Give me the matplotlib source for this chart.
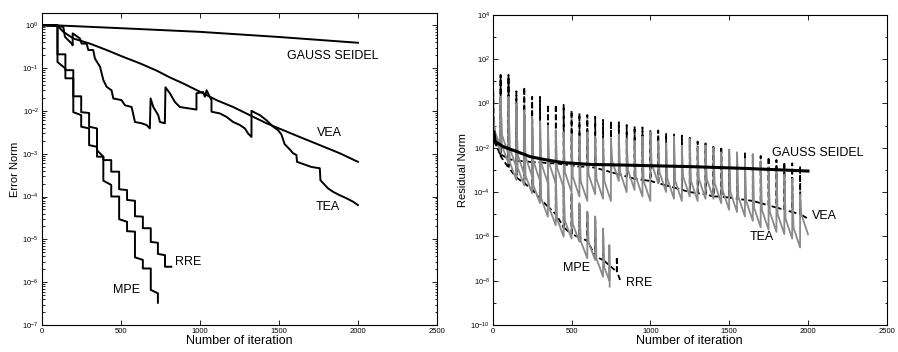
import numpy as np
import matplotlib
matplotlib.use("Agg")
import matplotlib.pyplot as plt
from matplotlib.ticker import FixedLocator, LogFormatterSciNotation, NullFormatter

plt.rcParams["font.family"] = ["Liberation Sans", "DejaVu Sans"]
plt.rcParams["mathtext.default"] = "regular"

# ---------------- left panel: error norm (values stored as log10 exponents) ----------------
gs_l_x = [0, 100, 500, 1000, 1500, 2000]
gs_l_e = [0.0, -0.005, -0.07, -0.155, -0.275, -0.41]

vea_l_x = [0, 100, 137, 200, 305, 411, 516, 621, 727, 811, 895, 1021, 1106, 1211, 1316, 1422,
           1527, 1632, 1759, 1885, 2000]
vea_l_e = [0.0, -0.01, -0.155, -0.31, -0.43, -0.58, -0.74, -0.89, -1.06, -1.22, -1.36, -1.59,
           -1.75, -1.91, -2.10, -2.29, -2.45, -2.61, -2.80, -2.99, -3.19]

tea_l_x = [0, 95, 137, 147, 190, 196, 196, 242, 253, 284, 295, 326, 337, 369, 390, 411, 442, 453,
           505, 527, 569, 590, 632, 663, 684, 689, 706, 737, 748, 779, 783, 811, 842, 874, 979, 979,
           1021, 1032, 1043, 1074, 1074, 1127, 1169, 1211, 1253, 1285, 1306, 1327, 1327, 1358, 1380,
           1422, 1464, 1495, 1516, 1537, 1569, 1590, 1611, 1615, 1706, 1759, 1763, 1811, 1843, 1885,
           1927, 1969, 2000]
tea_l_e = [0.0, -0.02, -0.04, -0.27, -0.43, -0.47, -0.19, -0.31, -0.43, -0.43, -0.58, -0.58, -0.78,
           -0.97, -1.28, -1.44, -1.52, -1.71, -1.75, -1.87, -1.91, -2.26, -2.29, -2.33, -2.41, -1.71,
           -1.91, -2.10, -2.26, -2.29, -1.45, -1.59, -1.79, -1.91, -1.97, -1.59, -1.56, -1.67, -1.52,
           -1.75, -2.02, -2.06, -2.14, -2.26, -2.33, -2.41, -2.53, -2.61, -2.00, -2.06, -2.10, -2.22,
           -2.37, -2.45, -2.55, -2.78, -2.90, -2.99, -3.03, -3.19, -3.31, -3.34, -3.62, -3.81, -3.89,
           -3.97, -4.04, -4.12, -4.20]

# restarted methods: restart iteration, exponent just after restart, exponent just before next
mpe_l_x = [100, 150, 200, 250, 300, 350, 390, 440, 490, 540, 590, 640, 690]
mpe_l_a = [-0.86, -1.24, -2.03, -2.37, -2.80, -3.07, -3.63, -4.00, -4.53, -4.81, -5.42, -5.68, -6.18]
mpe_l_b = [-1.01, -1.24, -2.10, -2.41, -2.84, -3.07, -3.73, -4.00, -4.59, -4.82, -5.48, -5.68, -6.26]
mpe_l_end = (735, -6.48)

rre_l_x = [100, 150, 200, 250, 300, 350, 390, 440, 490, 540, 590, 640, 690, 735, 780]
rre_l_a = [-0.68, -1.05, -1.66, -2.03, -2.37, -2.92, -3.15, -3.42, -3.83, -4.08, -4.46, -4.74, -5.06,
           -5.34, -5.64]
rre_l_b = [-0.68, -1.05, -1.66, -2.05, -2.41, -3.07, -3.15, -3.42, -3.85, -4.10, -4.47, -4.74, -5.08,
           -5.37, -5.64]
rre_l_end = (820, -5.64)

# ---------------- right panel: residual norm ----------------
restarts = [50, 100, 150, 200, 250, 300, 350, 400, 450, 500, 550, 600, 650, 700, 750, 800, 850, 900,
            950, 1000, 1050, 1100, 1150, 1200, 1250, 1300, 1350, 1400, 1450, 1500, 1550, 1600, 1650,
            1700, 1750, 1800, 1850, 1900, 1950]

gs_r_x = [8, 15, 67, 152, 237, 343, 448, 618, 829, 1252, 1600, 2000]
gs_r_e = [-1.3, -1.72, -1.95, -2.17, -2.40, -2.55, -2.67, -2.75, -2.78, -2.85, -2.93, -3.05]

start_x = [0, 4, 15, 50]

vea_r_start = [2.8, -0.6, -1.8, -2.3]
vea_r_top = [1.29, 1.29, 0.55, 0.73, 0.30, 0.30, -0.06, -0.06, -0.06, -0.32, -0.44, -0.52, -0.60,
             -0.74, -0.80, -0.85, -0.97, -1.03, -1.08, -1.19, -1.22, -1.34, -1.40, -1.45, -1.55,
             -1.72, -1.80, -1.88, -1.95, -2.10, -2.17, -2.25, -2.30, -2.37, -2.42, -2.55, -2.65,
             -2.70, -2.82]
vea_r_min = [-2.5, -2.6, -2.6, -2.65, -2.65, -2.7, -2.7, -2.75, -2.8, -2.85, -2.85, -2.9, -3.0, -3.1,
             -3.2, -3.3, -3.4, -3.45, -3.5, -3.6, -3.7, -3.8, -3.9, -4.0, -4.05, -4.1, -4.2, -4.2,
             -4.25, -4.3, -4.35, -4.4, -4.5, -4.6, -4.7, -4.8, -4.9, -5.0, -5.2]

tea_r_start = [2.8, -0.7, -1.3, -1.95]
tea_r_top = [0.3, 0.3, -0.4, -0.3, -0.6, -0.8, -1.0, -1.2, -1.3, -1.4, -1.5, -1.3, -1.5, -1.6, -1.6,
             -1.4, -1.6, -1.7, -1.5, -1.3, -1.7, -1.8, -1.5, -1.9, -1.6, -2.0, -1.9, -2.0, -2.2,
             -2.1, -2.2, -2.5, -2.3, -2.6, -2.9, -3.0, -3.2, -3.4, -4.1]
tea_r_knee = [-1.4, -2.0, -2.3, -2.4, -2.6, -2.7, -2.7, -2.9, -3.1, -3.3, -3.5, -3.2, -3.4, -3.5, -2.6,
              -3.1, -3.0, -3.3, -3.5, -2.7, -3.1, -3.4, -3.5, -3.3, -3.5, -3.4, -3.4, -3.6, -3.9,
              -4.0, -4.2, -4.4, -4.7, -4.8, -4.9, -5.0, -5.2, -5.6, -5.0]
tea_r_min = [-2.3, -2.9, -3.2, -3.3, -3.5, -3.6, -3.6, -3.8, -4.0, -4.2, -4.4, -4.1, -4.3, -4.4, -3.5,
             -4.0, -3.9, -4.2, -4.4, -3.6, -4.0, -4.3, -4.4, -4.2, -4.4, -4.3, -4.3, -4.5, -4.8,
             -4.9, -5.1, -5.3, -5.6, -5.7, -5.8, -5.9, -6.1, -6.5, -5.9]

mpe_r_restarts = [50, 100, 150, 200, 250, 300, 350, 400, 450, 500, 550, 600, 650, 700]
mpe_r_start = [2.8, -0.7, -1.5, -2.2]
mpe_r_top = [0.3, 0.3, 0.0, -0.5, -1.2, -1.8, -2.8, -3.2, -3.75, -4.05, -4.5, -4.88, -5.1, -5.64]
mpe_r_knee = [-1.9, -2.65, -2.9, -3.25, -3.7, -4.3, -4.7, -5.2, -5.3, -5.45, -6.2, -6.27, -7.0, -7.4]
mpe_r_min = [-2.7, -3.45, -3.7, -4.05, -4.5, -5.11, -5.5, -6.01, -6.1, -6.24, -6.99, -7.07, -7.82, -8.0]
mpe_r_tail_x = [740, 742]
mpe_r_tail_e = [-6.39, -8.27]

rre_r_restarts = [50, 100, 150, 200, 250, 300, 350, 400, 450, 500, 550, 600, 650, 700, 787]
rre_r_start = [2.8, -0.7, -1.6, -2.4]
rre_r_top = [1.2, 1.2, -0.2, -0.6, -1.3, -1.9, -2.9, -3.3, -3.8, -4.1, -4.6, -4.9, -5.2, -5.7, -6.92]
rre_r_min = [-2.9, -3.35, -3.6, -3.9, -4.3, -4.66, -5.0, -5.6, -5.9, -6.05, -6.2, -6.9, -7.07, -7.6,
             -7.97]
rre_r_end = 808


def staircase(seg_x, a, b, end):
    xs, es = [0, seg_x[0]], [0.0, 0.0]
    for k, x in enumerate(seg_x):
        nxt = seg_x[k + 1] if k + 1 < len(seg_x) else end[0]
        xs += [x, nxt]
        es += [a[k], b[k]]
    xs.append(end[0])
    es.append(end[1])
    return np.array(xs), 10.0 ** np.array(es)


def spiky(sx, se, rx, tops, knees, mins, x_end, knee_dx):
    xs, es = list(sx), list(se)
    for k, x in enumerate(rx):
        nxt = rx[k + 1] if k + 1 < len(rx) else x_end
        xs += [x, x + knee_dx, nxt]
        es += [tops[k], knees[k], mins[k]]
    return np.array(xs), 10.0 ** np.array(es)


def style_axes(ax, ylim, major_exp, minor_exp):
    ax.set_yscale("log")
    ax.set_xlim(0, 2500)
    ax.set_ylim(*ylim)
    ax.set_xticks([0, 500, 1000, 1500, 2000, 2500])
    ax.yaxis.set_major_locator(FixedLocator([10.0 ** e for e in major_exp]))
    ax.yaxis.set_major_formatter(LogFormatterSciNotation())
    ax.yaxis.set_minor_locator(FixedLocator(minor_exp))
    ax.yaxis.set_minor_formatter(NullFormatter())
    ax.tick_params(which="both", direction="in", top=True, right=True, labelsize=5.5, width=0.6,
                   pad=2)
    ax.tick_params(which="major", length=3.5)
    ax.tick_params(which="minor", length=1.8)
    for s in ax.spines.values():
        s.set_linewidth(0.8)
    ax.set_xlabel("Number of iteration", fontsize=9, labelpad=0)


fig = plt.figure(figsize=(8.98, 3.52), dpi=100)
ax1 = fig.add_axes([0.0464, 0.0767, 0.4402, 0.887])
ax2 = fig.add_axes([0.5487, 0.0767, 0.4388, 0.881])

lw = 1.4
ax1.plot(gs_l_x, 10.0 ** np.array(gs_l_e), color="black", lw=lw)
ax1.plot(vea_l_x, 10.0 ** np.array(vea_l_e), color="black", lw=lw)
ax1.plot(tea_l_x, 10.0 ** np.array(tea_l_e), color="black", lw=lw)
x, y = staircase(rre_l_x, rre_l_a, rre_l_b, rre_l_end)
ax1.plot(x, y, color="black", lw=lw)
x, y = staircase(mpe_l_x, mpe_l_a, mpe_l_b, mpe_l_end)
ax1.plot(x, y, color="black", lw=lw)

minor_l = [m * 10.0 ** d for d in range(-7, 1) for m in range(2, 10)]
style_axes(ax1, (1e-7, 1.95), range(-7, 1), minor_l)
ax1.set_ylabel("Error Norm", fontsize=8, labelpad=2)

tk = dict(fontsize=9, va="center", ha="left")
ax1.text(1552, 10 ** -0.72, "GAUSS SEIDEL", **tk)
ax1.text(1738, 10 ** -2.51, "VEA", **tk)
ax1.text(1734, 10 ** -4.24, "TEA", **tk)
ax1.text(843, 10 ** -5.52, "RRE", **tk)
ax1.text(453, 10 ** -6.18, "MPE", **tk)

gray = "#8a8a8a"
dash = (0, (3.0, 1.6))
x, y = spiky(start_x, vea_r_start, restarts, vea_r_top, [vea_r_start[-1]] + vea_r_min[:-1],
             vea_r_min, 2000, 2)
ax2.plot(x, y, color="black", lw=1.3, ls=dash)
x, y = spiky(start_x, rre_r_start, rre_r_restarts, rre_r_top, [rre_r_start[-1]] + rre_r_min[:-1],
             rre_r_min, rre_r_end, 2)
ax2.plot(x, y, color="black", lw=1.3, ls=dash)
x, y = spiky(start_x, tea_r_start, restarts, tea_r_top, tea_r_knee, tea_r_min, 2000, 8)
ax2.plot(x, y, color=gray, lw=1.3)
x, y = spiky(start_x, mpe_r_start, mpe_r_restarts, mpe_r_top, mpe_r_knee, mpe_r_min, 740, 8)
x = np.concatenate([x, mpe_r_tail_x])
y = np.concatenate([y, 10.0 ** np.array(mpe_r_tail_e)])
ax2.plot(x, y, color=gray, lw=1.3)
ax2.plot(gs_r_x, 10.0 ** np.array(gs_r_e), color="black", lw=2.2)

style_axes(ax2, (1e-10, 1e4), range(-10, 5, 2), [10.0 ** e for e in range(-9, 4, 2)])
ax2.set_ylabel("Residual Norm", fontsize=8, labelpad=2)

ax2.text(1770, 10 ** -2.22, "GAUSS SEIDEL", **tk)
ax2.text(2024, 10 ** -5.08, "VEA", **tk)
ax2.text(1633, 10 ** -6.04, "TEA", **tk)
ax2.text(448, 10 ** -7.41, "MPE", **tk)
ax2.text(846, 10 ** -8.09, "RRE", **tk)

fig.savefig("out.png", dpi=100)
